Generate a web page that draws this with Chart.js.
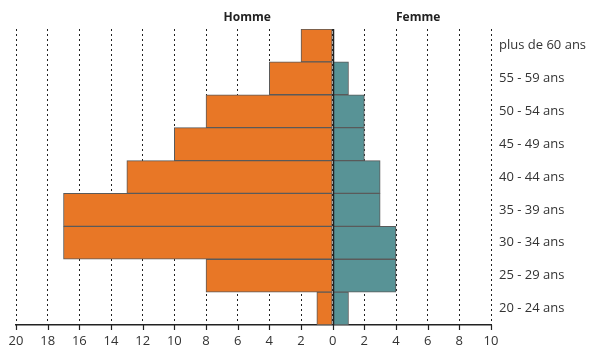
<!DOCTYPE html>
<html>
<head>
<meta charset="utf-8">
<script src="https://cdn.jsdelivr.net/npm/chart.js@4"></script>
<style>
  html, body { margin: 0; padding: 0; background: #fff; }
  #wrap { width: 590px; height: 347px; }
</style>
</head>
<body>
<div id="wrap"><canvas id="pyramid"></canvas></div>
<script>
// age groups, top to bottom
const ageGroups = [
  "plus de 60 ans", "55 - 59 ans", "50 - 54 ans", "45 - 49 ans", "40 - 44 ans",
  "35 - 39 ans", "30 - 34 ans", "25 - 29 ans", "20 - 24 ans"
];
const hommeValues = [2, 4, 8, 10, 13, 17, 17, 8, 1];
const femmeValues = [0, 1, 2, 2, 3, 3, 4, 4, 1];
const xTicks = [-20, -18, -16, -14, -12, -10, -8, -6, -4, -2, 0, 2, 4, 6, 8, 10];

Chart.defaults.font.family = "'Open Sans', sans-serif";
Chart.defaults.color = "#333";

// side titles, solid zero line on top of bars, tick marks under the axis
const pyramidExtras = {
  id: "pyramidExtras",
  afterDatasetsDraw(chart) {
    const { ctx, chartArea, scales } = chart;
    const x0 = Math.round(scales.x.getPixelForValue(0)) + 0.5;
    ctx.save();
    ctx.strokeStyle = "#222";
    ctx.lineWidth = 1.5;
    ctx.beginPath();
    ctx.moveTo(x0, chartArea.top);
    ctx.lineTo(x0, chartArea.bottom);
    ctx.stroke();

    ctx.lineWidth = 1.2;
    ctx.beginPath();
    xTicks.forEach((v) => {
      const px = Math.round(scales.x.getPixelForValue(v)) + 0.5;
      ctx.moveTo(px, chartArea.bottom);
      ctx.lineTo(px, chartArea.bottom + 5);
    });
    ctx.stroke();

    ctx.fillStyle = "#222";
    ctx.font = "bold 12px 'Open Sans', sans-serif";
    ctx.textAlign = "center";
    ctx.textBaseline = "middle";
    ctx.fillText("Homme", scales.x.getPixelForValue(-5.4), 18);
    ctx.fillText("Femme", scales.x.getPixelForValue(5.4), 18);
    ctx.restore();
  }
};

new Chart(document.getElementById("pyramid"), {
  type: "bar",
  data: {
    labels: ageGroups,
    datasets: [
      {
        label: "Homme",
        data: hommeValues.map((v) => -v),
        backgroundColor: "#e87726",
        borderColor: "#5a5a5a",
        borderWidth: 1,
        borderSkipped: false,
        categoryPercentage: 1,
        barPercentage: 1
      },
      {
        label: "Femme",
        data: femmeValues,
        backgroundColor: "#589396",
        borderColor: "#5a5a5a",
        borderWidth: 1,
        borderSkipped: false,
        categoryPercentage: 1,
        barPercentage: 1
      }
    ]
  },
  options: {
    indexAxis: "y",
    responsive: true,
    maintainAspectRatio: false,
    animation: false,
    layout: { padding: { left: 16, top: 29, right: 0, bottom: 0 } },
    plugins: {
      legend: { display: false },
      tooltip: { enabled: false }
    },
    scales: {
      x: {
        stacked: true,
        min: -20,
        max: 10,
        afterBuildTicks: (scale) => {
          scale.ticks = xTicks.map((v) => ({ value: v }));
        },
        afterFit: (scale) => {
          scale.height = 22;
        },
        ticks: {
          padding: 8,
          font: { size: 13 },
          color: "#333",
          callback: (value) => Math.abs(value)
        },
        grid: {
          color: "#222",
          lineWidth: 1,
          drawTicks: false
        },
        border: {
          display: true,
          color: "#222",
          width: 1.5,
          dash: [2, 3]
        }
      },
      y: {
        stacked: true,
        position: "right",
        afterFit: (scale) => {
          scale.width = 99;
        },
        ticks: {
          padding: 8,
          font: { size: 13 },
          color: "#333"
        },
        grid: { display: false, drawTicks: false },
        border: { display: false }
      }
    }
  },
  plugins: [pyramidExtras]
});
</script>
</body>
</html>
